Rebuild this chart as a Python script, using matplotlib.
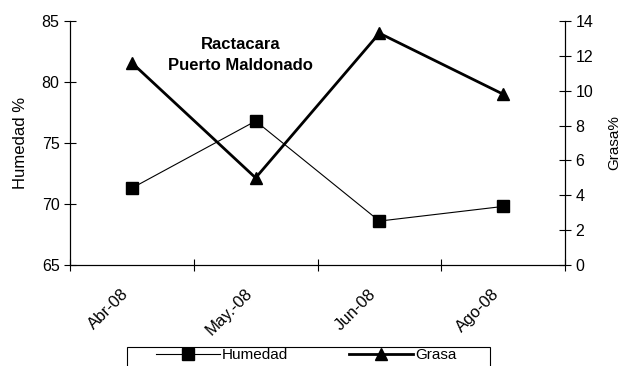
import matplotlib
matplotlib.use("Agg")
import matplotlib.pyplot as plt
from matplotlib.patches import Rectangle
from matplotlib.transforms import ScaledTranslation

plt.rcParams['font.family'] = ['Liberation Sans', 'DejaVu Sans']

# data
meses = ['Abr-08', 'May.-08', 'Jun-08', 'Ago-08']
humedad = [71.3, 76.8, 68.6, 69.8]
grasa = [11.6, 5.0, 13.3, 9.8]

W, H = 625, 366
fig = plt.figure(figsize=(W / 100, H / 100), dpi=100)
ax = fig.add_axes([70 / W, 1 - 265 / H, 495 / W, 244 / H])
ax2 = ax.twinx()

x = range(len(meses))
l1, = ax.plot(x, humedad, color='black', lw=0.8, marker='s', ms=8, label='Humedad')
l2, = ax2.plot(x, grasa, color='black', lw=2, marker='^', ms=9, label='Grasa')

ax.set_xlim(-0.5, 3.5)
ax.set_ylim(65, 85)
ax.set_yticks([65, 70, 75, 80, 85])
ax2.set_ylim(0, 14)
ax2.set_yticks(range(0, 15, 2))

ax.set_xticks([-0.5, 0.5, 1.5, 2.5, 3.5])
ax.set_xticklabels([])
ax.set_xticks(list(x), minor=True)
ax.set_xticklabels(meses, minor=True, rotation=45, ha='right', va='center',
                   rotation_mode='anchor', fontsize=12)
ax.tick_params(axis='x', which='minor', length=0, pad=19)
ax.tick_params(axis='x', which='major', direction='inout', length=8)
ax.tick_params(axis='y', direction='inout', length=8, labelsize=11.5)
ax2.tick_params(axis='y', direction='inout', length=8, labelsize=11.5)
shift = ScaledTranslation(-6 / 100, 0, fig.dpi_scale_trans)
for lab in ax.get_xticklabels(minor=True):
    lab.set_transform(lab.get_transform() + shift)

ax.set_ylabel('Humedad %', fontsize=12, labelpad=10)
ax2.set_ylabel('Grasa%', fontsize=11, labelpad=10)

for a in (ax, ax2):
    a.spines['top'].set_visible(False)
    for s in a.spines.values():
        s.set_linewidth(0.8)

ax.text(0.345, 0.861, 'Ractacara\nPuerto Maldonado', transform=ax.transAxes,
        ha='center', va='center', fontsize=12, fontweight='bold', linespacing=1.45)

# legend box runs off the bottom edge, as in the original
fig.patches.append(Rectangle((127 / W, -0.05), 363 / W, 0.05 + 1 - 347 / H,
                             transform=fig.transFigure, fill=False,
                             edgecolor='black', lw=0.8))
leg = fig.legend([l1, l2], ['Humedad', 'Grasa'], ncol=2, loc='upper left',
                 bbox_to_anchor=(156 / W, 1 - 348 / H), frameon=False,
                 fontsize=11, handlelength=4.2, handletextpad=0.1,
                 borderpad=0, borderaxespad=0, columnspacing=4.0)

fig.savefig('out.png', dpi=100)
